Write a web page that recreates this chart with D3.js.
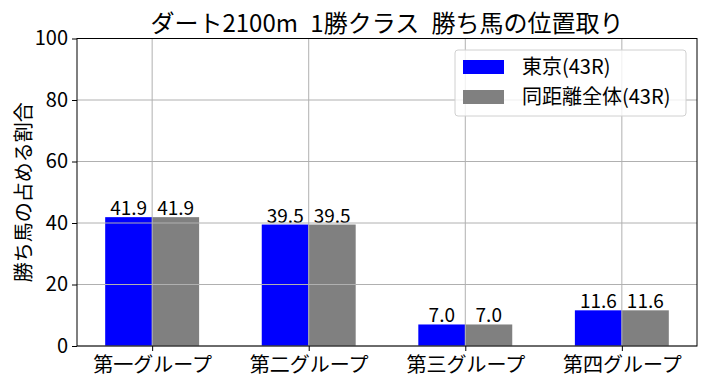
<!DOCTYPE html>
<html>
<head>
<meta charset="utf-8">
<script src="https://cdn.jsdelivr.net/npm/d3@7"></script>
<style>
  body { margin: 0; background: #fff; }
  text { font-family: "Noto Sans CJK JP", sans-serif; fill: #000; }
</style>
</head>
<body>
<div id="chart"></div>
<script>
// chart data
const categories = ["第一グループ", "第二グループ", "第三グループ", "第四グループ"];
const seriesNames = ["東京(43R)", "同距離全体(43R)"];
const tokyoValues = [41.9, 39.5, 7.0, 11.6];
const allValues = [41.9, 39.5, 7.0, 11.6];
const yTicks = [0, 20, 40, 60, 80, 100];
const colors = ["#0000ff", "#808080"];

const W = 706, H = 386;
const margin = {top: 38.5, right: 9, bottom: 40, left: 77};
const width = W - margin.left - margin.right,
      height = H - margin.top - margin.bottom;

const svg = d3.select("#chart").append("svg")
    .attr("width", W).attr("height", H);
const g = svg.append("g")
    .attr("transform", `translate(${margin.left},${margin.top})`);

// scales: matplotlib-style positions with 0.3 bar width
const barW = 0.3;
const x = d3.scaleLinear().domain([-0.48, 3.48]).range([0, width]);
const y = d3.scaleLinear().domain([0, 100]).range([height, 0]);

// bars
const series = [tokyoValues, allValues];
series.forEach((vals, s) => {
    const off = s === 0 ? -barW : 0;
    g.append("g").selectAll("rect").data(vals).enter().append("rect")
        .attr("x", (d, i) => x(i + off))
        .attr("width", x(barW) - x(0))
        .attr("y", d => y(d))
        .attr("height", d => y(0) - y(d))
        .attr("fill", colors[s]);
    g.append("g").selectAll("text").data(vals).enter().append("text")
        .attr("x", (d, i) => x(i + off + barW / 2))
        .attr("y", d => y(d) - 2)
        .attr("text-anchor", "middle")
        .style("font-size", "19px")
        .text(d => d.toFixed(1));
});

// grid drawn over the bars
g.append("g").selectAll("line").data(categories).enter().append("line")
    .attr("x1", (d, i) => x(i)).attr("x2", (d, i) => x(i))
    .attr("y1", 0).attr("y2", height)
    .attr("stroke", "#b0b0b0").attr("stroke-width", 1);
g.append("g").selectAll("line").data(yTicks).enter().append("line")
    .attr("x1", 0).attr("x2", width)
    .attr("y1", d => y(d)).attr("y2", d => y(d))
    .attr("stroke", "#b0b0b0").attr("stroke-width", 1);

// frame
g.append("rect").attr("width", width).attr("height", height)
    .attr("fill", "none").attr("stroke", "#000").attr("stroke-width", 1);

// axes
const yAxis = g.append("g")
    .call(d3.axisLeft(y).tickValues(yTicks).tickSize(5).tickPadding(4));
yAxis.select(".domain").remove();
yAxis.selectAll("text").style("font-size", "20px").attr("font-family", null);

const xAxis = g.append("g")
    .attr("transform", `translate(0,${height})`)
    .call(d3.axisBottom(x).tickValues([0, 1, 2, 3])
        .tickFormat(i => categories[i]).tickSize(5).tickPadding(7));
xAxis.select(".domain").remove();
xAxis.selectAll("text").style("font-size", "20px").attr("font-family", null);

// title
svg.append("text")
    .attr("x", margin.left + width / 2).attr("y", 32)
    .attr("text-anchor", "middle")
    .style("font-size", "24px")
    .style("word-spacing", "7px")
    .text("ダート2100m 1勝クラス 勝ち馬の位置取り");

// y label
svg.append("text")
    .attr("transform", `translate(31,${margin.top + height / 2}) rotate(-90)`)
    .attr("text-anchor", "middle")
    .style("font-size", "20px")
    .text("勝ち馬の占める割合");

// legend
const lg = svg.append("g").attr("transform", "translate(455,50)");
lg.append("rect").attr("width", 231).attr("height", 66).attr("rx", 3)
    .attr("fill", "#fff").attr("fill-opacity", 0.8)
    .attr("stroke", "#d0d0d0");
seriesNames.forEach((name, i) => {
    lg.append("rect").attr("x", 8).attr("y", 10 + i * 30)
        .attr("width", 41).attr("height", 14).attr("fill", colors[i]);
    lg.append("text").attr("x", 67).attr("y", 24 + i * 30)
        .style("font-size", "20px").text(name);
});
</script>
</body>
</html>
